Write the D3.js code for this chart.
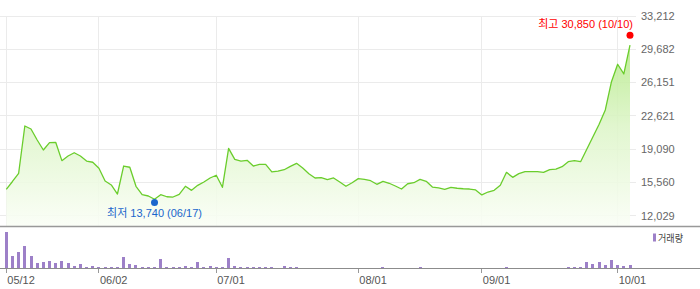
<!DOCTYPE html>
<html><head><meta charset="utf-8">
<script src="https://cdn.jsdelivr.net/npm/d3@7"></script>
<style>
html,body{margin:0;padding:0;background:#fff;}
svg{display:block;font-family:"Liberation Sans",Arial,"Noto Sans CJK KR",sans-serif;}
</style></head>
<body>
<svg id="chart" width="700" height="289"></svg>
<script>
const dates = ["05/12","05/13","05/14","05/15","05/16","05/19","05/20","05/21","05/22","05/23","05/26","05/27","05/28","05/29","05/30",
"06/02","06/04","06/05","06/09","06/10","06/11","06/12","06/13","06/16","06/17","06/18","06/19","06/20","06/23","06/24","06/25","06/26","06/27","06/30",
"07/01","07/02","07/03","07/04","07/07","07/08","07/09","07/10","07/11","07/14","07/15","07/16","07/17","07/18","07/21","07/22","07/23","07/24","07/25","07/28","07/29","07/30","07/31",
"08/01","08/04","08/05","08/06","08/07","08/08","08/11","08/12","08/13","08/14","08/18","08/19","08/20","08/21","08/22","08/25","08/26","08/27","08/28","08/29",
"09/01","09/02","09/03","09/04","09/05","09/08","09/09","09/10","09/11","09/12","09/15","09/16","09/17","09/18","09/19","09/22","09/23","09/24","09/25","09/26","09/29","09/30",
"10/01","10/02","10/10"];
const closes = [14820,15650,16520,21540,21220,20050,18990,19770,19810,17860,18350,18700,18350,17820,17690,
17050,15700,15280,14320,17290,17160,15140,14250,14110,13760,14250,14030,14000,14290,15140,14710,15240,15590,16020,
16310,15030,19170,18000,17820,17900,17290,17470,17470,16660,16760,16900,17260,17580,17080,16480,16020,16050,15840,16020,15590,15140,15520,
15950,15880,15730,15350,15670,15460,15170,14850,15410,15520,15880,15670,15060,14960,14820,15030,14930,14880,14850,14750,
14220,14530,14710,15240,16620,16090,16480,16690,16690,16690,16620,16900,16970,17220,17750,17860,17750,19070,20400,21720,23240,26240,
28090,27060,30130];
const volumes = [36,12,16,22,12,5,6,7,5,7,5,2,4,1,2,
1,1,1,1,11,4,3,1,1,1,9,1,1,1,2,1,6,1,2,
1,1,10,2,1,1,1,1,1,1,0,2,1,1,0,0,0,0,0,0,0,0,0,
0,0,0,0,1,0,0,0,0,0,1,0,0,0,0,0,0,0,0,0,
0,0,0,0,1,0,0,0,0,0,0,0,0,0,1,1,1,6,4,6,3,8,
3,2,3];
const priceTicks = [33212,29682,26151,22621,19090,15560,12029];
const dateTicks = ["05/12","06/02","07/01","08/01","09/01","10/01"];
const highValue = 30850, highDate = "10/10";
const lowValue = 13740, lowDate = "06/17";
const legendLabel = "거래량";

const svg = d3.select("#chart");
const W = 700;
const plotRight = 636;
const priceTop = 16, priceBottom = 226;
const volTop = 228, volBase = 268;

const x = d3.scalePoint().domain(dates).range([6.3, 630]);
const y = d3.scaleLinear().domain([12029, 33212]).range([215.6, 16]);
const yv = d3.scaleLinear().domain([0, 40]).range([volBase, volTop]);

// gradient
const defs = svg.append("defs");
const grad = defs.append("linearGradient").attr("id","areaGrad")
  .attr("x1",0).attr("y1",0).attr("x2",0).attr("y2",1);
grad.append("stop").attr("offset","0%").attr("stop-color","#b6ea8a");
grad.append("stop").attr("offset","45%").attr("stop-color","#ddf5c8");
grad.append("stop").attr("offset","100%").attr("stop-color","#fafef6");

// horizontal grid
svg.append("g").selectAll("line").data(priceTicks).join("line")
  .attr("x1",0).attr("x2",plotRight)
  .attr("y1",d=>Math.floor(y(d))+0.5).attr("y2",d=>Math.floor(y(d))+0.5)
  .attr("stroke","#ebebeb").attr("stroke-width",1);
// vertical grid
svg.append("g").selectAll("line").data(dateTicks).join("line")
  .attr("x1",d=>Math.floor(x(d))+0.5).attr("x2",d=>Math.floor(x(d))+0.5)
  .attr("y1",priceTop).attr("y2",priceBottom)
  .attr("stroke","#ebebeb").attr("stroke-width",1);

// area
const pts = dates.map((d,i)=>({d, v:closes[i]}));
svg.append("path").datum(pts)
  .attr("d", d3.area().x(p=>x(p.d)).y0(priceBottom).y1(p=>y(p.v)))
  .attr("fill","url(#areaGrad)").attr("fill-opacity",0.88);
svg.append("path").datum(pts)
  .attr("d", d3.line().x(p=>x(p.d)).y(p=>y(p.v)))
  .attr("fill","none").attr("stroke","#6acd2c").attr("stroke-width",1.3).attr("stroke-linejoin","round");

// right axis labels
svg.append("g").selectAll("text").data(priceTicks).join("text")
  .attr("x",641).attr("y",d=>y(d)).attr("dy","0.36em")
  .attr("font-size",11).attr("fill","#666")
  .text(d=>d3.format(",")(d));

// separators
svg.append("line").attr("x1",0).attr("x2",W).attr("y1",priceBottom+0.5).attr("y2",priceBottom+0.5)
  .attr("stroke","#999").attr("stroke-width",1.5);
svg.append("line").attr("x1",0).attr("x2",W).attr("y1",volBase+0.5).attr("y2",volBase+0.5)
  .attr("stroke","#8c8c8c").attr("stroke-width",1);

// volume bars
svg.append("g").selectAll("rect").data(dates).join("rect")
  .attr("x",(d)=>Math.round(x(d)-1.5)).attr("width",3)
  .attr("y",(d,i)=>yv(volumes[i])).attr("height",(d,i)=>volBase-yv(volumes[i]))
  .attr("fill","#9d80c8");

// date ticks and labels
const xt = svg.append("g");
xt.selectAll("line").data(dateTicks).join("line")
  .attr("x1",d=>Math.floor(x(d))+0.5).attr("x2",d=>Math.floor(x(d))+0.5)
  .attr("y1",volBase+1).attr("y2",volBase+5).attr("stroke","#999");
xt.selectAll("text").data(dateTicks).join("text")
  .attr("x",d=>x(d)+1).attr("y",284)
  .attr("font-size",11).attr("fill","#555").text(d=>d);

// legend
svg.append("rect").attr("x",653).attr("y",233.5).attr("width",3).attr("height",8).attr("fill","#9d80c8");
svg.append("text").attr("x",658).attr("y",242).attr("font-size",10).attr("fill","#444")
  .attr("textLength",25).attr("lengthAdjust","spacingAndGlyphs").text(legendLabel);

// high / low markers
const hx = x(highDate), hy = y(highValue) - 3;
svg.append("circle").attr("cx",hx).attr("cy",hy).attr("r",3.5).attr("fill","#ff0000");
svg.append("text").attr("x",hx+3).attr("y",hy-7).attr("text-anchor","end")
  .attr("font-size",11).attr("fill","#ff0000")
  .text(`최고 ${d3.format(",")(highValue)} (${highDate})`);
const lx = x(lowDate), ly = y(lowValue) + 3;
svg.append("circle").attr("cx",lx).attr("cy",ly).attr("r",3.5).attr("fill","#1a66cc");
svg.append("text").attr("x",lx).attr("y",ly+14.4).attr("text-anchor","middle")
  .attr("font-size",11).attr("fill","#1a66cc")
  .text(`최저 ${d3.format(",")(lowValue)} (${lowDate})`);
</script>
</body></html>
